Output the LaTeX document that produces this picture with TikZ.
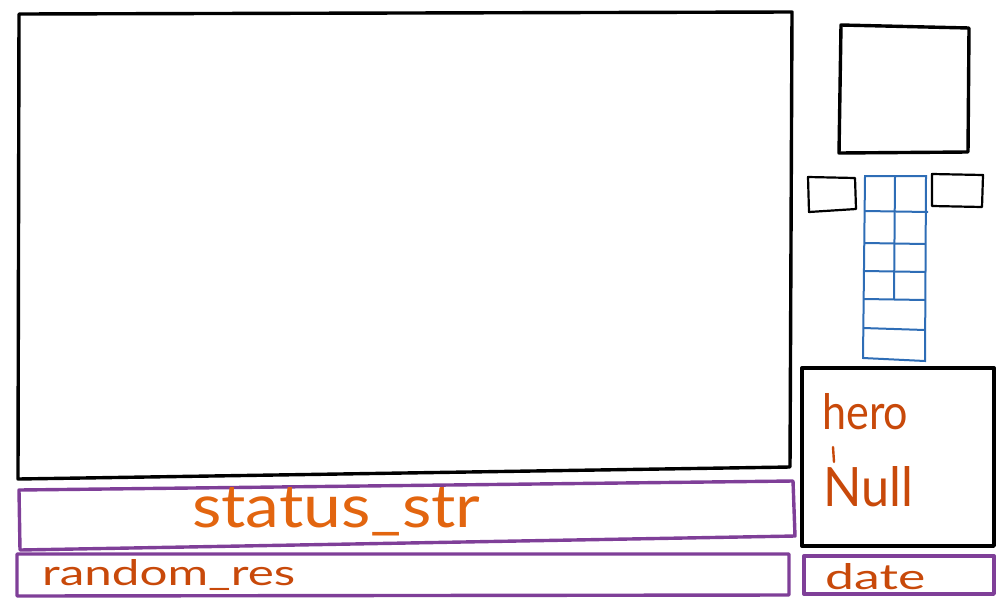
\documentclass[tikz,border=0pt]{standalone}
\usepackage{fontspec}
\setmainfont{Lato}
\definecolor{frame}{HTML}{000000}
\definecolor{purp}{HTML}{7F3F98}
\definecolor{gridblue}{HTML}{2E6DB6}
\definecolor{orangeA}{HTML}{E2650F}
\definecolor{orangeB}{HTML}{C8490A}
\begin{document}
\begin{tikzpicture}[x=1pt,y=-1pt,
  blackbox/.style={draw=frame,line width=3.4pt,line join=round},
  thinbox/.style={draw=frame,line width=2.2pt,line join=round},
  purpbox/.style={draw=purp,line width=3.4pt,line join=round},
  gridline/.style={draw=gridblue,line width=2pt},
  hand/.style={inner sep=0pt,anchor=west}]
\useasboundingbox (0,0) rectangle (1000,600);
% main canvas
\draw[blackbox] (19,14) -- (792,12) -- (790,467) -- (18,479) -- cycle;
% top-right square
\draw[blackbox] (841,25) -- (969,28) -- (968,152) -- (839,153) -- cycle;
% small rects
\draw[thinbox] (808,177) -- (855,178) -- (856,209) -- (809,212) -- cycle;
\draw[thinbox] (932,174) -- (983,175) -- (982,207) -- (932,206) -- cycle;
% blue grid
\draw[gridline] (865,176) -- (926,176) -- (925,361) -- (863,358) -- cycle;
\draw[gridline] (895,176) -- (894,299);
\draw[gridline] (865,211) -- (928,212);
\draw[gridline] (865,243) -- (925,244);
\draw[gridline] (864,271) -- (926,272);
\draw[gridline] (864,299) -- (925,300);
\draw[gridline] (863,328) -- (925,330);
% hero box
\draw[blackbox] (802,368) -- (994,368) -- (994,546) -- (802,546) -- cycle;
% status_str
\draw[purpbox] (19,490) -- (793,481) -- (795,536) -- (20,550) -- cycle;
% random_res
\draw[purpbox] (17,554) -- (789,554) -- (789,595) -- (17,596) -- cycle;
% date
\draw[purpbox] (804,556) -- (994,556) -- (994,594) -- (804,594) -- cycle;
% texts
\node[hand,text=orangeA] (status) at (192,512) {\resizebox{288pt}{40pt}{status\_str}};
\node[hand,text=orangeB] (random) at (42,575) {\resizebox{253pt}{26pt}{random\_res}};
\node[hand,text=orangeB] (date) at (825,577) {\resizebox{100pt}{26pt}{date}};
\node[hand,text=orangeB] (hero) at (822,412) {\resizebox{86pt}{36pt}{hero}};
\node[hand,text=orangeB] (null) at (823,487) {\resizebox{90pt}{40pt}{Null}};
\draw[orangeB,line width=2.4pt,line cap=round] (833,447) -- (834,462);
\end{tikzpicture}
\end{document}
